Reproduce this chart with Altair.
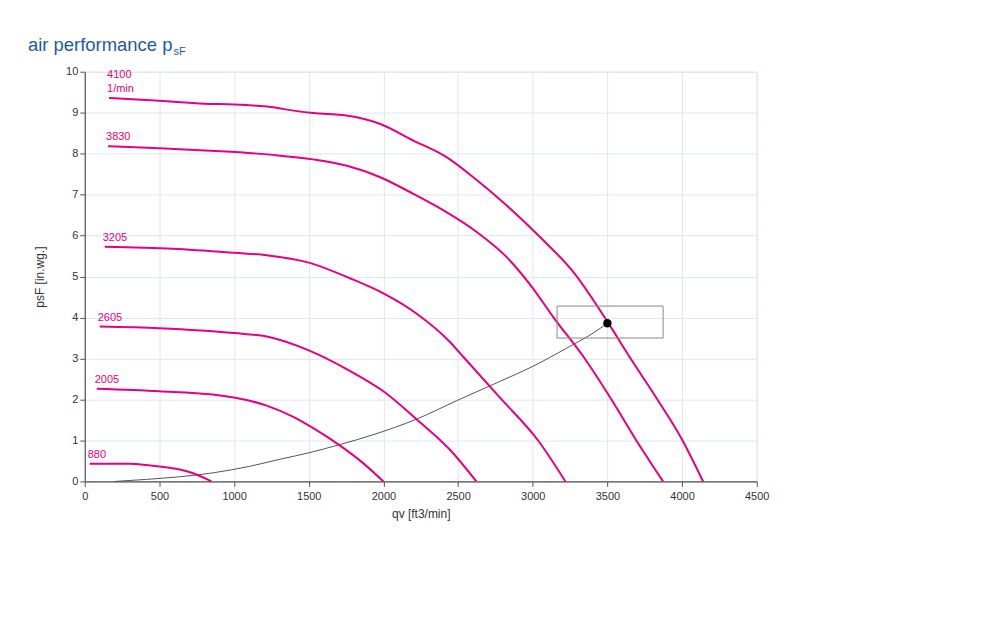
import altair as alt
import pandas as pd

# ---- data ----
speeds = ["4100", "3830", "3205", "2605", "2005", "880"]
unit_text = ["1/min"]

s4100_x = [163, 500, 800, 1000, 1260, 1400, 1530, 1750, 1975, 2200, 2420, 2600, 2824, 3047, 3270, 3500, 3650, 3835, 3996, 4141]
s4100_y = [9.36, 9.29, 9.22, 9.20, 9.13, 9.05, 8.99, 8.93, 8.73, 8.32, 7.92, 7.43, 6.74, 5.97, 5.12, 3.90, 3.03, 2.00, 1.05, 0.00]

s3830_x = [156, 500, 840, 1260, 1530, 1750, 1975, 2200, 2400, 2620, 2824, 3000, 3140, 3348, 3527, 3694, 3873]
s3830_y = [8.18, 8.13, 8.07, 7.97, 7.86, 7.71, 7.43, 7.02, 6.62, 6.10, 5.48, 4.72, 4.00, 3.00, 2.00, 1.00, 0.00]

s3205_x = [134, 590, 1004, 1217, 1500, 1775, 2000, 2221, 2444, 2533, 2779, 3036, 3219]
s3205_y = [5.73, 5.68, 5.58, 5.52, 5.34, 4.96, 4.59, 4.10, 3.41, 3.05, 2.05, 1.00, 0.00]

s2605_x = [100, 500, 1000, 1240, 1500, 1775, 2000, 2221, 2444, 2623]
s2605_y = [3.78, 3.74, 3.62, 3.52, 3.20, 2.70, 2.20, 1.52, 0.78, 0.00]

s2005_x = [80, 500, 860, 1000, 1217, 1400, 1530, 1700, 1850, 2000]
s2005_y = [2.26, 2.20, 2.12, 2.05, 1.85, 1.57, 1.30, 0.90, 0.49, 0.00]

s880_x = [33, 300, 413, 636, 748, 848]
s880_y = [0.43, 0.43, 0.40, 0.29, 0.17, 0.00]

sys_x = [200, 413, 859, 1105, 1306, 1502, 1708, 1931, 2221, 2496, 2779, 3002, 3226, 3404, 3500]
sys_y = [0.00, 0.05, 0.21, 0.37, 0.54, 0.70, 0.90, 1.14, 1.52, 1.98, 2.44, 2.81, 3.25, 3.62, 3.86]

op_x = [3500]
op_y = [3.86]

box_x = [3163]
box_x2 = [3873]
box_y = [3.50]
box_y2 = [4.28]

x_ticks = [0, 500, 1000, 1500, 2000, 2500, 3000, 3500, 4000, 4500]
y_ticks = [0, 1, 2, 3, 4, 5, 6, 7, 8, 9, 10]

# ---- build tables ----
curve_x = [s4100_x, s3830_x, s3205_x, s2605_x, s2005_x, s880_x]
curve_y = [s4100_y, s3830_y, s3205_y, s2605_y, s2005_y, s880_y]
rows = []
for sp, xs, ys in zip(speeds, curve_x, curve_y):
    for i, (xv, yv) in enumerate(zip(xs, ys)):
        rows.append({"speed": sp, "idx": i, "x": xv, "y": yv})
curves = pd.DataFrame(rows)

labels = pd.DataFrame({
    "speed": speeds,
    "text": speeds,
    "x": [xs[0] for xs in curve_x],
    "y": [ys[0] for ys in curve_y],
})
unit_df = pd.DataFrame({"text": unit_text, "x": [s4100_x[0]], "y": [s4100_y[0]]})

system = pd.DataFrame({"x": sys_x, "y": sys_y, "idx": list(range(len(sys_x)))})
op = pd.DataFrame({"x": op_x, "y": op_y})
box = pd.DataFrame({"x": box_x, "x2": box_x2, "y": box_y, "y2": box_y2})

PINK = "#e6007e"
FONT = "Liberation Sans"

xscale = alt.Scale(domain=[0, 4500], nice=False, zero=False)
yscale = alt.Scale(domain=[0, 10], nice=False, zero=False)
xaxis = alt.Axis(values=x_ticks, title="qv [ft3/min]", titlePadding=7, labelFlush=False,
                 format="d", grid=True, labelPadding=4)
yaxis = alt.Axis(values=y_ticks, title="psF [in.wg.]", titlePadding=19, format="d", grid=True,
                 labelPadding=2)


def X(field="x"):
    return alt.X(f"{field}:Q", scale=xscale, axis=xaxis)


def Y(field="y"):
    return alt.Y(f"{field}:Q", scale=yscale, axis=yaxis)


lines = alt.Chart(curves).mark_line(color=PINK, strokeWidth=2, interpolate="monotone").encode(
    x=X(), y=Y(), detail="speed:N", order="idx:Q"
)

sys_line = alt.Chart(system).mark_line(color="#555555", strokeWidth=1, interpolate="monotone").encode(
    x=X(), y=Y(), order="idx:Q"
)

box_mark = alt.Chart(box).mark_rect(fill=None, fillOpacity=0, stroke="#888888", strokeWidth=1).encode(
    x=X(), x2="x2:Q", y=Y(), y2="y2:Q"
)

op_mark = alt.Chart(op).mark_point(filled=True, color="#000000", size=70, opacity=1).encode(
    x=X(), y=Y()
)

label_base = alt.Chart(labels).encode(x=X(), y=Y(), text="text:N")
label_mark = label_base.transform_filter(alt.datum.speed != "4100").mark_text(
    color=PINK, fontSize=11, font=FONT, align="left", baseline="bottom", dy=-4, dx=-2
)
label_top = label_base.transform_filter(alt.datum.speed == "4100").mark_text(
    color=PINK, fontSize=11, font=FONT, align="left", baseline="bottom", dy=-18, dx=-2
)
unit_mark = alt.Chart(unit_df).mark_text(
    color=PINK, fontSize=11, font=FONT, align="left", baseline="bottom", dy=-4, dx=-2
).encode(x=X(), y=Y(), text="text:N")

title_df = pd.DataFrame({"t": ["air performance p"]})
title_main = alt.Chart(title_df).mark_text(
    color="#1f5a9e", fontSize=18.5, font=FONT, align="left", baseline="alphabetic"
).encode(x=alt.value(-57), y=alt.value(-21), text="t:N")

sub_df = pd.DataFrame({"t": ["sF"]})
title_sub = alt.Chart(sub_df).mark_text(
    color="#1f5a9e", fontSize=11, font=FONT, align="left", baseline="alphabetic"
).encode(x=alt.value(89), y=alt.value(-17), text="t:N")

chart = alt.layer(sys_line, lines, box_mark, op_mark, label_mark, label_top, unit_mark,
                  title_main, title_sub).properties(
    width=674,
    height=411,
    autosize=alt.AutoSizeParams(type="none"),
    padding={"left": 77, "top": 63, "right": 236, "bottom": 110},
).configure(
    font=FONT,
).configure_view(
    stroke="#dfe6ef", strokeWidth=1
).configure_axis(
    gridColor="#dfe6ef", gridWidth=1,
    domainColor="#555555", domainWidth=1.2,
    tickColor="#555555", tickSize=5, tickWidth=1,
    labelColor="#333333", labelFontSize=11, labelFont=FONT,
    titleColor="#333333", titleFontSize=12, titleFont=FONT, titleFontWeight="normal",
)

chart.save("out.html", embed_options={"renderer": "svg", "actions": False})
